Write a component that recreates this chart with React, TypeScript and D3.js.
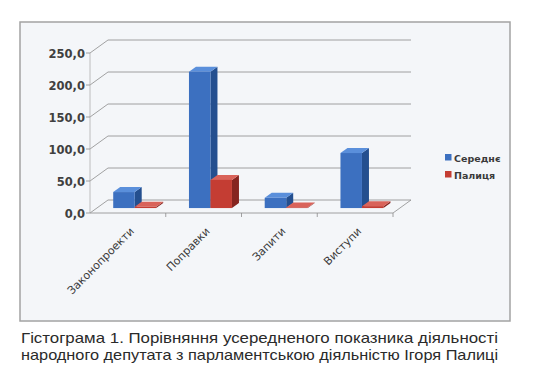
import * as d3 from "d3";

const categories = ["Законопроекти", "Поправки", "Запити", "Виступи"];
const seriesNames = ["Середнє", "Палиця"];
const serednie = [25, 213, 16, 86];
const palytsia = [2, 44, 1, 3];
const yTicks = [0, 50, 100, 150, 200, 250];
const captionLines = [
  "Гістограма 1. Порівняння усередненого показника діяльності",
  "народного депутата з парламентською діяльністю Ігоря Палиці",
];

const W = 533;
const H = 386;
// front plane of the plot
const left = 90;
const right = 393;
const bottom = 213;
const top = 53;
// full depth offset of the 3d box
const DX = 18;
const DY = -13;
const colors = [
  { front: "#3c70c0", top: "#5a8fdb", side: "#244f8f" },
  { front: "#c43d33", top: "#d9635a", side: "#862520" },
];

const x = d3.scaleBand().domain(categories).range([left, right]);
const y = d3.scaleLinear().domain([0, 250]).range([bottom, top]);

export default function App() {
  const barPlane = 0.38; // depth fraction where bars' front faces sit
  const px = DX * barPlane;
  const py = DY * barPlane;
  const bw = 21.5;
  const bdx = 7;
  const bdy = -5;
  const data = [serednie, palytsia];

  const bars: JSX.Element[] = [];
  categories.forEach((c, i) => {
    const cx = (x(c) as number) + x.bandwidth() / 2 + px;
    data.forEach((vals, s) => {
      const x0 = cx - bw + s * bw;
      const x1 = x0 + bw;
      const y0 = y(0) + py;
      const y1 = y(vals[i]) + py;
      const col = colors[s];
      bars.push(
        <g key={`${c}-${s}`}>
          <path
            d={`M${x1},${y0}L${x1 + bdx},${y0 + bdy}L${x1 + bdx},${y1 + bdy}L${x1},${y1}Z`}
            fill={col.side}
          />
          <path
            d={`M${x0},${y1}L${x0 + bdx},${y1 + bdy}L${x1 + bdx},${y1 + bdy}L${x1},${y1}Z`}
            fill={col.top}
          />
          <rect x={x0} y={y1} width={bw} height={y0 - y1} fill={col.front} />
        </g>
      );
    });
  });

  return (
    <svg width={W} height={H} style={{ display: "block", position: "absolute", left: 0, top: 0 }}>
      <rect x={0} y={0} width={W} height={H} fill="#ffffff" />
      <rect x={20} y={22} width={490} height={299} fill="#f4f6f9" stroke="#a3a3a3" strokeWidth={1.5} />

      {/* grid: diagonal on left wall, horizontal on back wall */}
      {yTicks.map((t) => (
        <path
          key={t}
          d={`M${left},${y(t)}L${left + DX},${y(t) + DY}L${right + DX},${y(t) + DY}`}
          fill="none"
          stroke="#8c8c8c"
          strokeWidth={0.8}
        />
      ))}
      {/* floor */}
      <path
        d={`M${left},${bottom}L${right},${bottom}L${right + DX},${bottom + DY}`}
        fill="none"
        stroke="#8c8c8c"
        strokeWidth={0.8}
      />
      <line x1={left} x2={left} y1={top} y2={bottom} stroke="#b0b0b0" strokeWidth={0.8} />
      {yTicks.map((t) => (
        <line key={"t" + t} x1={left - 4} x2={left} y1={y(t)} y2={y(t)} stroke="#8c8c8c" strokeWidth={0.8} />
      ))}
      {categories.map((c) => (
        <line
          key={"c" + c}
          x1={(x(c) as number) + x.bandwidth()}
          x2={(x(c) as number) + x.bandwidth()}
          y1={bottom}
          y2={bottom + 4}
          stroke="#8c8c8c"
          strokeWidth={0.8}
        />
      ))}

      {bars}

      {yTicks.map((t) => (
        <text
          key={"l" + t}
          x={left - 5}
          y={y(t) + 4.5}
          textAnchor="end"
          fontFamily="DejaVu Sans, sans-serif"
          fontSize={11.5}
          fontWeight="bold"
          fill="#404040"
        >
          {d3.format(".1f")(t).replace(".", ",")}
        </text>
      ))}

      {categories.map((c) => {
        const cx = (x(c) as number) + x.bandwidth() / 2 + 7;
        return (
          <text
            key={"n" + c}
            transform={`translate(${cx},${232}) rotate(-45)`}
            textAnchor="end"
            fontFamily="DejaVu Sans, sans-serif"
            fontSize={11}
            fill="#3a3a3a"
          >
            {c}
          </text>
        );
      })}

      {seriesNames.map((n, s) => (
        <g key={n} transform={`translate(445,${154 + s * 17})`}>
          <rect x={0} y={0} width={6.5} height={6.5} fill={colors[s].front} />
          <text
            x={9}
            y={7.5}
            fontFamily="DejaVu Sans, sans-serif"
            fontSize={9.5}
            fontWeight="bold"
            fill="#3a3a3a"
          >
            {n}
          </text>
        </g>
      ))}

      {captionLines.map((l, i) => (
        <text
          key={i}
          x={21}
          y={343 + i * 17}
          fontFamily="Liberation Sans, Arial, sans-serif"
          fontSize={14.5}
          fill="#2a2a2a"
          textLength={477}
          lengthAdjust="spacingAndGlyphs"
        >
          {l}
        </text>
      ))}
    </svg>
  );
}
